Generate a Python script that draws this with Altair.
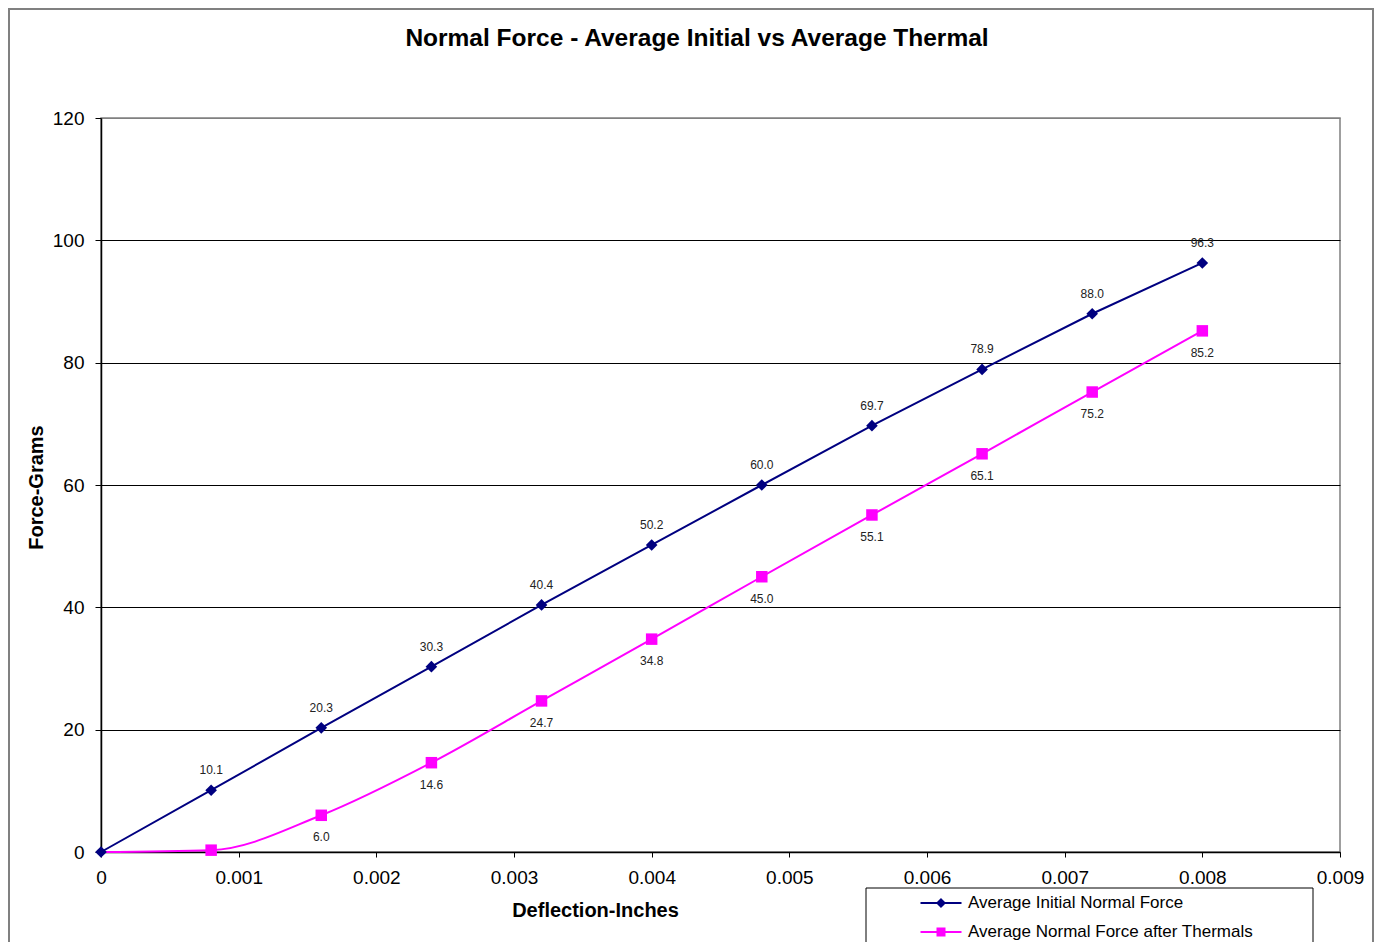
import altair as alt
import pandas as pd

# ---------------- data ----------------
X_VALUES = [0, 0.0008, 0.0016, 0.0024, 0.0032, 0.0040, 0.0048, 0.0056, 0.0064, 0.0072, 0.0080]
INITIAL = [0, 10.1, 20.3, 30.3, 40.4, 50.2, 60.0, 69.7, 78.9, 88.0, 96.3]
THERMAL = [0, 0.3, 6.0, 14.6, 24.7, 34.8, 45.0, 55.1, 65.1, 75.2, 85.2]
SERIES = ["Average Initial Normal Force", "Average Normal Force after Thermals"]
COLORS = ["#000080", "#FF00FF"]
X_TICKS = [0, 0.001, 0.002, 0.003, 0.004, 0.005, 0.006, 0.007, 0.008, 0.009]
Y_TICKS = [0, 20, 40, 60, 80, 100, 120]
TITLE = "Normal Force - Average Initial vs Average Thermal"
X_TITLE = "Deflection-Inches"
Y_TITLE = "Force-Grams"

FONT = "Liberation Sans"

# legend symbols: line segment + marker, drawn with strokes (unit = 5 px)
LEGEND_SHAPES = [
    "M-4.1,0H4.1M0,-0.72L0.72,0L0,0.72L-0.72,0ZM0,-0.36L0.36,0L0,0.36L-0.36,0Z",
    "M-4.1,0H4.1M-0.7,-0.7H0.7V0.7H-0.7ZM-0.3,-0.3H0.3V0.3H-0.3ZM-0.1,-0.1H0.1V0.1H-0.1Z",
]

rows = []
for s, vals in zip(SERIES, [INITIAL, THERMAL]):
    for xv, v in zip(X_VALUES, vals):
        rows.append({"x": xv, "value": v, "series": s,
                     "label": f"{v:.1f}", "show": v >= 1})
df = pd.DataFrame(rows)

color_scale = alt.Scale(domain=SERIES, range=COLORS)

x_enc = alt.X(
    "x:Q",
    scale=alt.Scale(domain=[0, 0.009], nice=False, zero=False),
    axis=alt.Axis(
        values=X_TICKS, grid=False, title=X_TITLE, labelFlush=False,
        labelExpr="datum.value == 0 ? '0' : format(datum.value, '.3f')",
        tickSize=5, labelPadding=26, labelBaseline="alphabetic",
        titleX=494, titleY=64, titleBaseline="alphabetic", titleAlign="center",
    ),
)
y_enc = alt.Y(
    "value:Q",
    scale=alt.Scale(domain=[0, 120], nice=False),
    axis=alt.Axis(
        values=Y_TICKS, title=Y_TITLE, tickSize=6, labelPadding=11,
        gridColor={"expr": "datum.value >= 120 ? '#808080' : '#000000'"},
        titleX=-65, titleY=369, titleAngle=270, titleBaseline="middle",
        titleAlign="center",
    ),
)

legend = alt.Legend(
    title=None, orient="none", legendX=831.5, legendY=776.5, direction="vertical",
    labelFont=FONT, labelFontSize=17, labelColor="black", labelOffset=18.5,
    symbolSize=100, symbolStrokeWidth=2, rowPadding=11, padding=0, labelLimit=400,
)

base = alt.Chart(df)
one = alt.Chart(pd.DataFrame({"k": [0]}))

border = one.mark_rect(fillOpacity=0, stroke="#808080", strokeWidth=2).encode(
    x=alt.value(-92), x2=alt.value(1272), y=alt.value(-109), y2=alt.value(900)
)
legend_box = one.mark_rect(fill="white", stroke="black", strokeWidth=1).encode(
    x=alt.value(765), x2=alt.value(1212), y=alt.value(770), y2=alt.value(900)
)

line_init = base.transform_filter(f"datum.series == '{SERIES[0]}'").mark_line(
    strokeWidth=2, color=COLORS[0]
).encode(x=x_enc, y=y_enc)
line_therm = base.transform_filter(f"datum.series == '{SERIES[1]}'").mark_line(
    strokeWidth=2, color=COLORS[1], interpolate="monotone"
).encode(x=x_enc, y=y_enc)
pts_therm = base.transform_filter(
    f"datum.series == '{SERIES[1]}' && datum.x > 0"
).mark_point(filled=True, opacity=1, shape="square", size=132, color=COLORS[1]).encode(
    x=x_enc, y=y_enc
)
pts_init = base.transform_filter(
    f"datum.series == '{SERIES[0]}'"
).mark_point(filled=True, opacity=1, shape="diamond", size=135, color=COLORS[0]).encode(
    x=x_enc, y=y_enc
)
# legend-only layer (no rows drawn): colour + shape merged into one legend
legend_layer = base.transform_filter("false").mark_point(
    filled=False, opacity=1, strokeWidth=2, size=100
).encode(
    x=x_enc, y=y_enc,
    color=alt.Color("series:N", scale=color_scale, legend=legend),
    shape=alt.Shape("series:N", scale=alt.Scale(domain=SERIES, range=LEGEND_SHAPES), legend=legend),
)
labels_init = base.transform_filter(
    f"datum.series == '{SERIES[0]}' && datum.show"
).mark_text(dy=-20, fontSize=12, font=FONT, color="#222222").encode(
    x=x_enc, y=y_enc, text="label:N"
)
labels_therm = base.transform_filter(
    f"datum.series == '{SERIES[1]}' && datum.show"
).mark_text(dy=22, fontSize=12, font=FONT, color="#222222").encode(
    x=x_enc, y=y_enc, text="label:N"
)

chart = alt.layer(
    border, legend_box, line_therm, line_init, pts_therm, pts_init,
    legend_layer, labels_init, labels_therm
).properties(
    width=1239, height=734,
    autosize=alt.AutoSizeParams(type="none"),
    padding={"left": 93, "top": 110, "right": 42, "bottom": 100},
    title=alt.Title(TITLE, font=FONT, fontSize=24.5, fontWeight="bold", color="black",
                    anchor="middle", dx=-23.5, baseline="alphabetic", offset=-62.5),
).configure_view(
    stroke="#808080", strokeWidth=1.5
).configure_axis(
    domainColor="black", domainWidth=1.5, tickColor="black", tickWidth=1,
    labelColor="black", labelFont=FONT, labelFontSize=19,
    titleFont=FONT, titleFontSize=20, titleFontWeight="bold", titleColor="black",
    gridColor="black", gridWidth=1,
)

chart.save("out.html", embed_options={"renderer": "svg", "actions": False})
